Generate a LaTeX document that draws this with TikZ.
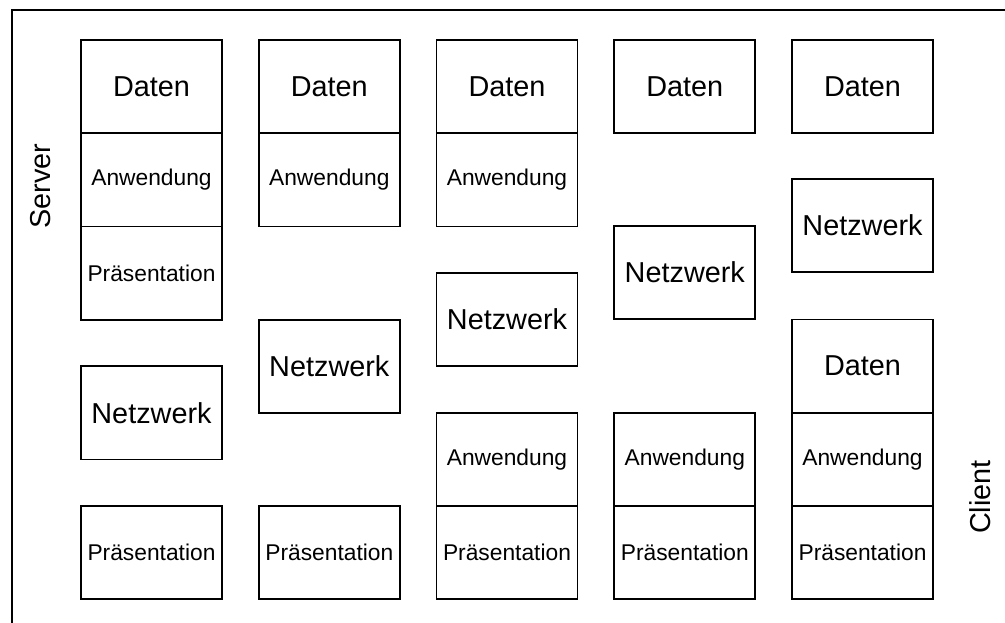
\documentclass[tikz,border=0pt]{standalone}
\usepackage{fontspec}
\setmainfont{Liberation Sans}
\usetikzlibrary{positioning}
\tikzset{layer/.style={rectangle, draw=black, line width=1.3pt, inner sep=0pt, outer sep=0pt, minimum width=3.525cm, minimum height=2.33cm, text centered},
big/.style={font=\fontsize{20.5}{24}\selectfont},
small/.style={font=\fontsize{16.2}{19}\selectfont}}
\tikzstyle{side}=[rotate=90,font=\fontsize{20.5}{24}\selectfont]

\begin{document}
\begin{tikzpicture} [x=0.025cm,y=-0.025cm,node distance=0pt]

\useasboundingbox (0,0) rectangle (1005,623);
\draw[line width=1.2pt] (12,10) rectangle (1015,630);

\node[side] (server) at (41,186) {Server};
\node[side] (client) at (980,497) {Client};

% column 1
\node (d1) at (151.5,86.6)[layer,big]{Daten};
\node (a1) [layer,small,below=of d1]{Anwendung};
\node (p1) [layer,small,below=of a1]{Pr\"asentation};
\node (n1) at (151.5,412.8)[layer,big]{Netzwerk};
\node (q1) at (151.5,552.6)[layer,small]{Pr\"asentation};

% column 2
\node (d2) at (329.3,86.6)[layer,big]{Daten};
\node (a2) [layer,small,below=of d2]{Anwendung};
\node (n2) at (329.3,366.2)[layer,big]{Netzwerk};
\node (q2) at (329.3,552.6)[layer,small]{Pr\"asentation};

% column 3
\node (d3) at (507,86.6)[layer,big]{Daten};
\node (a3) [layer,small,below=of d3]{Anwendung};
\node (n3) at (507,319.6)[layer,big]{Netzwerk};
\node (q3) at (507,552.6)[layer,small]{Pr\"asentation};
\node (w3) [layer,small,above=of q3]{Anwendung};

% column 4
\node (d4) at (684.8,86.6)[layer,big]{Daten};
\node (n4) at (684.8,272.6)[layer,big]{Netzwerk};
\node (q4) at (684.8,552.6)[layer,small]{Pr\"asentation};
\node (w4) [layer,small,above=of q4]{Anwendung};

% column 5
\node (d5) at (862.5,86.6)[layer,big]{Daten};
\node (n5) at (862.5,225.6)[layer,big]{Netzwerk};
\node (q5) at (862.5,552.6)[layer,small]{Pr\"asentation};
\node (w5) [layer,small,above=of q5]{Anwendung};
\node (e5) [layer,big,above=of w5]{Daten};
\end{tikzpicture}
\end{document}
